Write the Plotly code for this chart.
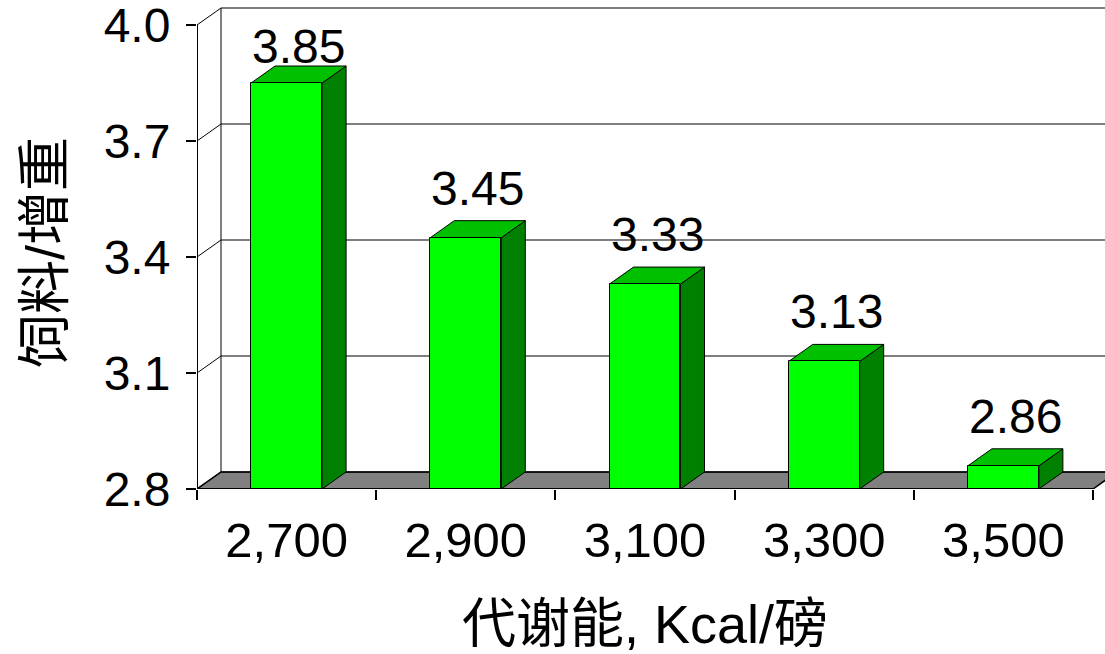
import plotly.graph_objects as go

# ---- data -------------------------------------------------------------
categories = ["2,700", "2,900", "3,100", "3,300", "3,500"]
feed_gain = [3.85, 3.45, 3.33, 3.13, 2.86]
y_ticks = [2.8, 3.1, 3.4, 3.7, 4.0]

# ---- page geometry (pixels) ---------------------------------------------
W, H = 1105, 654
LEFT, RIGHT, TOP, BOTTOM = 197, 0, 6, 165          # plot-area margins
PLOT_W, PLOT_H = W - LEFT - RIGHT, H - TOP - BOTTOM
CAT_PX = 179.2                                     # width of one category slot
Y_MIN, Y_MAX = 2.8, 4.0
UNIT_PX = (PLOT_H - 19) / (Y_MAX - Y_MIN)          # pixels per 1.0 on the value axis
DEPTH_PX = (24, 17)                                # oblique depth of the 3-D box
BAR_FRAC = 0.396                                   # bar width as share of a slot

x_lo = -0.5
x_hi = x_lo + PLOT_W / CAT_PX
y_hi = Y_MIN + PLOT_H / UNIT_PX
ddx = DEPTH_PX[0] / CAT_PX
ddy = DEPTH_PX[1] / UNIT_PX
x_edge_r = x_lo + len(categories)

FONT = "Liberation Sans, Arial, Noto Sans CJK SC, sans-serif"
FACE = "#00FF00"
TOP_FACE = "#00C000"
SIDE_FACE = "#008000"
FLOOR = "#808080"


def poly(pts):
    return "M " + " L ".join(f"{x},{y}" for x, y in pts) + " Z"


def px_to_paper(px, py):
    return (px - LEFT) / PLOT_W, (H - BOTTOM - py) / PLOT_H


shapes = []
# floor
shapes.append(dict(type="path", xref="x", yref="y", layer="below",
                   path=poly([(x_lo, Y_MIN), (x_lo + ddx, Y_MIN + ddy),
                              (x_edge_r + ddx, Y_MIN + ddy), (x_edge_r, Y_MIN)]),
                   fillcolor=FLOOR, line=dict(color="black", width=1.5)))
# side wall diagonals + back wall gridlines
for v in y_ticks:
    shapes.append(dict(type="line", xref="x", yref="y", layer="below",
                       x0=x_lo, y0=v, x1=x_lo + ddx, y1=v + ddy,
                       line=dict(color="black", width=1)))
    shapes.append(dict(type="line", xref="x", yref="y", layer="below",
                       x0=x_lo + ddx, y0=v + ddy, x1=x_hi, y1=v + ddy,
                       line=dict(color="black", width=1.2)))
# back wall left edge and front value axis
shapes.append(dict(type="line", xref="x", yref="y", layer="below",
                   x0=x_lo + ddx, y0=Y_MIN + ddy, x1=x_lo + ddx, y1=Y_MAX + ddy,
                   line=dict(color="black", width=1)))
shapes.append(dict(type="line", xref="x", yref="y", layer="above",
                   x0=x_lo, y0=Y_MIN, x1=x_lo, y1=Y_MAX,
                   line=dict(color="black", width=2)))
# floor front edge
shapes.append(dict(type="line", xref="x", yref="y", layer="above",
                   x0=x_lo, y0=Y_MIN, x1=x_edge_r, y1=Y_MIN,
                   line=dict(color="black", width=2)))

# top and side faces of each bar
half = BAR_FRAC / 2
for i, v in enumerate(feed_gain):
    x0, x1 = i - half, i + half
    shapes.append(dict(type="path", xref="x", yref="y", layer="below",
                       path=poly([(x1, Y_MIN), (x1 + ddx, Y_MIN + ddy),
                                  (x1 + ddx, v + ddy), (x1, v)]),
                       fillcolor=SIDE_FACE, line=dict(color="black", width=1)))
    shapes.append(dict(type="path", xref="x", yref="y", layer="below",
                       path=poly([(x0, v), (x0 + ddx, v + ddy),
                                  (x1 + ddx, v + ddy), (x1, v)]),
                       fillcolor=TOP_FACE, line=dict(color="black", width=1)))

fig = go.Figure()
fig.add_trace(go.Bar(
    x=list(range(len(categories))),
    y=[v - Y_MIN for v in feed_gain],
    base=Y_MIN,
    width=BAR_FRAC,
    marker=dict(color=FACE, line=dict(color="black", width=1)),
    hoverinfo="skip",
))

# value labels above each box, kept under the top of the wall
LABEL_CEIL = 3.816
annotations = []
for i, v in enumerate(feed_gain):
    annotations.append(dict(
        x=i + ddx / 2, y=min(v, LABEL_CEIL) + ddy, xref="x", yref="y",
        text=f"{v:.2f}", showarrow=False, xanchor="center", yanchor="bottom",
        yshift=4, font=dict(family=FONT, size=48, color="black")))

tx, ty = px_to_paper(45, 253)
annotations.append(dict(x=tx, y=ty, xref="paper", yref="paper", text="饲料/增重",
                        textangle=-90, showarrow=False, xanchor="center",
                        yanchor="middle", font=dict(family=FONT, size=54, color="black")))
tx, ty = px_to_paper(645, 624)
annotations.append(dict(x=tx, y=ty, xref="paper", yref="paper", text="代谢能, Kcal/磅",
                        showarrow=False, xanchor="center", yanchor="middle",
                        font=dict(family=FONT, size=54, color="black")))

fig.update_layout(
    width=W, height=H,
    margin=dict(l=LEFT, r=RIGHT, t=TOP, b=BOTTOM, pad=0),
    paper_bgcolor="white", plot_bgcolor="white",
    showlegend=False,
    shapes=shapes,
    annotations=annotations,
    bargap=0,
    xaxis=dict(
        range=[x_lo, x_hi], tickmode="array",
        tickvals=list(range(len(categories))), ticktext=categories,
        ticks="", showgrid=False, zeroline=False, showline=False,
        ticklabelstandoff=18,
        tickfont=dict(family=FONT, size=49, color="black"),
        minor=dict(tickmode="array",
                   tickvals=[x_lo + k for k in range(len(categories) + 1)],
                   ticks="outside", ticklen=10, tickwidth=1.5,
                   tickcolor="black", showgrid=False),
    ),
    yaxis=dict(
        range=[Y_MIN, y_hi], tickmode="array", tickvals=y_ticks,
        tickformat=".1f", ticks="outside", ticklen=10, tickwidth=1.5,
        tickcolor="black", showgrid=False, zeroline=False, showline=False,
        ticklabelstandoff=6, ticklabeloverflow="allow",
        tickfont=dict(family=FONT, size=48, color="black"),
    ),
)

fig.write_html("out.html")
